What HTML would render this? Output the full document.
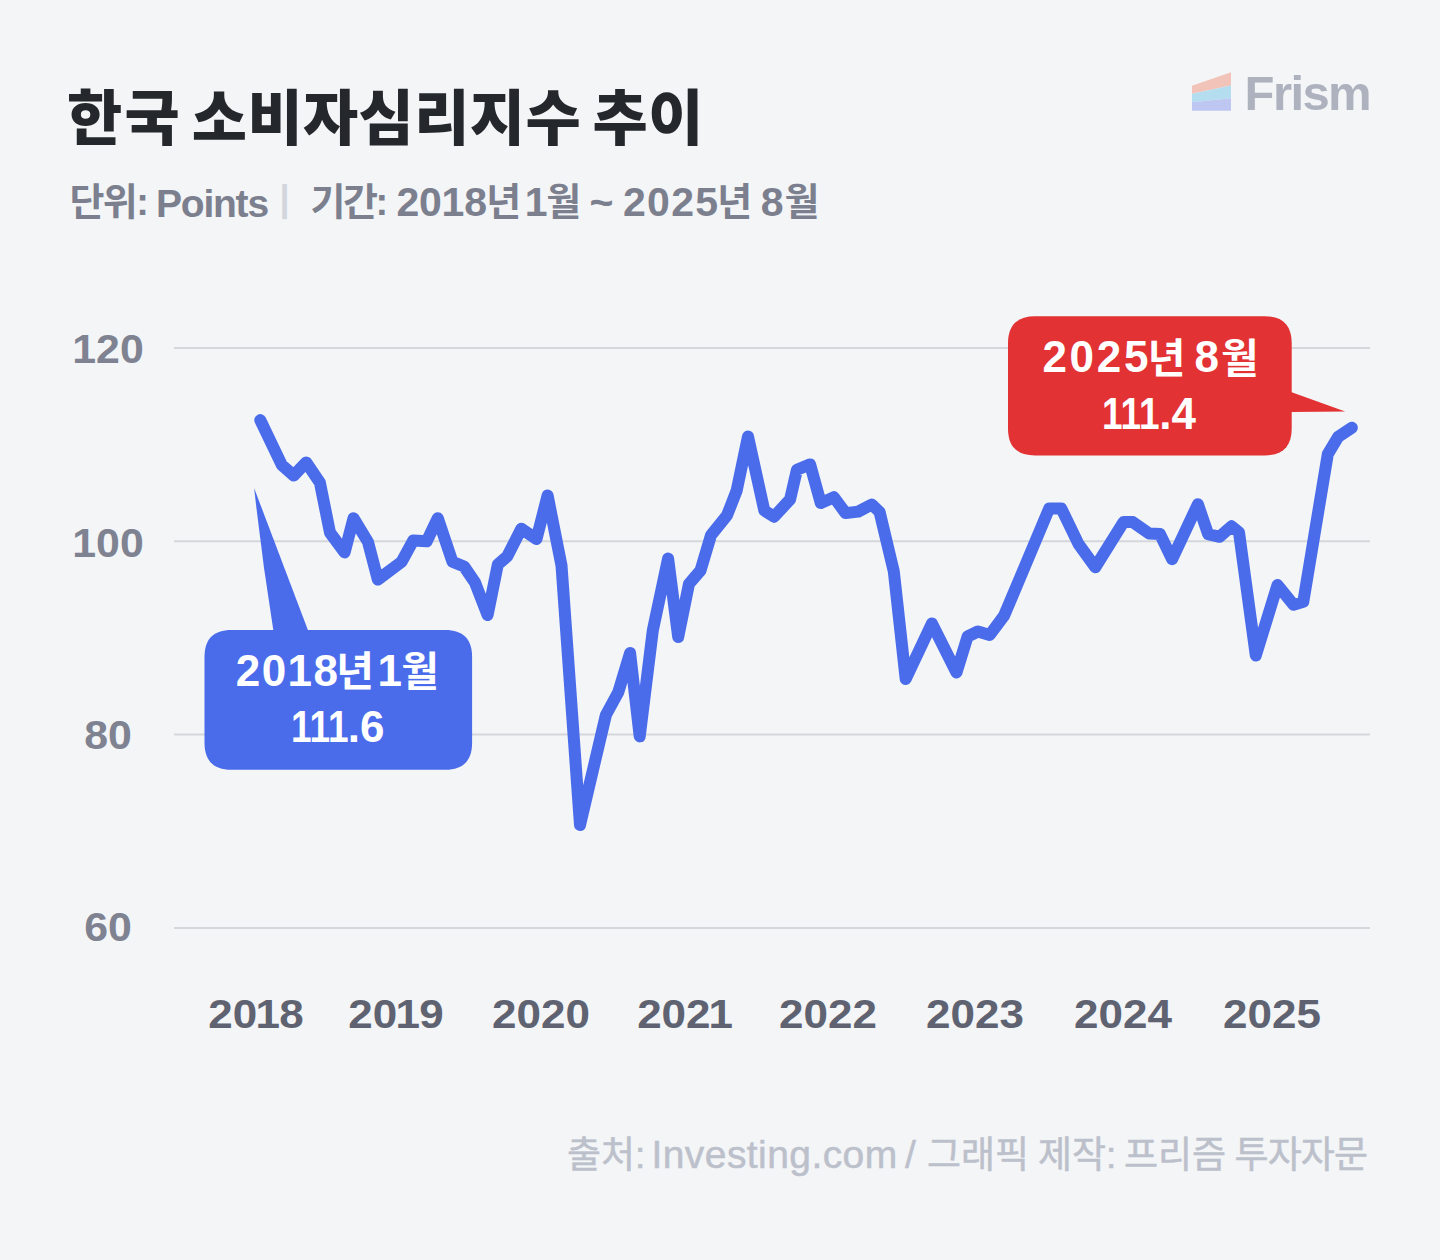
<!DOCTYPE html>
<html lang="ko">
<head>
<meta charset="utf-8">
<style>
html,body{margin:0;padding:0;}
body{width:1440px;height:1260px;background:#F3F5F7;position:relative;overflow:hidden;
  font-family:"Liberation Sans","Noto Sans CJK KR",sans-serif;}
.t{position:absolute;white-space:nowrap;line-height:1;}
#title{left:67px;top:90px;font-size:60px;font-weight:900;color:#24282C;letter-spacing:0.4px;word-spacing:-5.5px;}
.sb{font-weight:700;color:#7B7F8E;}
.sk{font-size:38px;top:183px;}
.sl{font-size:41px;top:181.8px;}
.sp{font-size:39px;top:183.6px;}
.sep{top:180.5px;font-size:36px;color:#D3D6DC;font-weight:700;}
#logo{left:1244.6px;top:69px;font-size:49px;font-weight:700;color:#AEB2BF;letter-spacing:-1.6px;}
.yl{position:absolute;width:80px;left:67.7px;text-align:center;font-size:40px;font-weight:700;color:#7E8291;line-height:1;transform:scaleX(1.07);}
.xl{position:absolute;width:140px;text-align:center;font-size:40px;font-weight:700;color:#5F6371;line-height:1;top:993.5px;transform:scaleX(1.1);}
.q{letter-spacing:-0.8px;margin-left:-1.5px;}
.o{display:inline-block;transform:scaleX(0.84);transform-origin:0 0;margin-right:-11.7px;}
.ft{color:#BCC0CB;font-weight:400;-webkit-text-stroke:0.5px #BCC0CB;}
.fk{font-size:37px;top:1136.6px;letter-spacing:0px;}
.fl{font-size:39px;top:1135px;letter-spacing:0px;}
.cd,.ck{color:#fff;font-weight:700;}
.cd{font-size:44px;}
.ck{font-size:41px;}
svg{position:absolute;left:0;top:0;}
</style>
</head>
<body>
<svg width="1440" height="1260" viewBox="0 0 1440 1260">
  <g stroke="#D5D7DB" stroke-width="2">
    <line x1="174" y1="348" x2="1370" y2="348"/>
    <line x1="174" y1="541.3" x2="1370" y2="541.3"/>
    <line x1="174" y1="734.6" x2="1370" y2="734.6"/>
    <line x1="174" y1="927.9" x2="1370" y2="927.9"/>
  </g>
  <!-- logo mark -->
  <g>
    <polygon points="1192,85.7 1231,72.3 1231,85.5 1192,93.8" fill="#F2C3B8"/>
    <polygon points="1192,93.8 1231,85.5 1231,98.3 1192,102.3" fill="#B5DDF0"/>
    <polygon points="1192,102.3 1231,98.3 1231,110.8 1192,110.8" fill="#BEC7F1"/>
  </g>
  <polyline fill="none" stroke="#4A6CEB" stroke-width="12" stroke-linejoin="round" stroke-linecap="round"
    points="260.3,420.1 281.8,465 293.7,475.5 306.2,462.4 319.9,482.6 330,532.6 344.6,552.4 353.5,518.2 368,542 377.8,579.6 401.7,561.7 413.3,540.4 426.7,541.3 437.8,518.2 452.4,561.7 464.1,566.5 475,582.5 487.6,615.1 497.8,564.6 507.3,556.3 521.3,528.7 536.5,539 547.6,495.5 561.5,565.5 580,825 605.9,715 618.2,692.4 630.1,653.1 639.7,736.4 652.8,630.5 668.1,558.5 678.2,637 689,583.8 700.5,570.5 711,535.2 727.1,515.2 736.7,490.5 748,436.5 764.3,510.5 774.1,516.7 790.1,499.4 796.9,469.8 810.1,464.4 820.8,503.1 833.9,497.2 845.6,513.1 858.2,511.6 871.8,504.5 879.6,512 893.8,571.4 905.7,679 931.9,623.5 956.5,672.5 967.6,636.5 977.9,631.5 989.7,635 1004.1,615.7 1049.2,508.5 1061.3,508.5 1078.5,544 1095.3,567.3 1123.5,522.1 1132.8,522.1 1149.3,533.6 1160,534.1 1172.1,559.2 1197.9,504.2 1208.1,534.1 1219.6,536.8 1231.6,526.3 1239,532.4 1255.8,655.5 1277.5,585 1293.5,604.7 1303.3,601.7 1327.8,454.2 1338.3,436.7 1351.8,427.7"/>
  <!-- blue callout -->
  <path fill="#4A6CEB" d="M254.2,488.3 Q262,560 273.3,630 L307.9,630 Z"/>
  <path fill="#4A6CEB" d="M231.5,629.9 L445.1,629.9 C463.1,629.9 472.1,638.9 472.1,656.9 L472.1,742.8 C472.1,760.8 463.1,769.8 445.1,769.8 L231.5,769.8 C213.5,769.8 204.5,760.8 204.5,742.8 L204.5,656.9 C204.5,638.9 213.5,629.9 231.5,629.9Z"/>
  <!-- red callout -->
  <path fill="#E23233" d="M1291,392 L1345.2,411.4 L1291,412.1 Z"/>
  <path fill="#E23233" d="M1035,316.3 L1264.7,316.3 C1282.7,316.3 1291.7,325.3 1291.7,343.3 L1291.7,428.4 C1291.7,446.4 1282.7,455.4 1264.7,455.4 L1035,455.4 C1017,455.4 1008,446.4 1008,428.4 L1008,343.3 C1008,325.3 1017,316.3 1035,316.3Z"/>
</svg>

<div class="t" id="title"><span style="letter-spacing:2.4px">한</span>국 소비자심리지수 추이</div>
<div class="t sep" style="left:279.5px">|</div>
<!--SUB-->
<div class="t sb sk p0" style="left:69.50px;letter-spacing:-1.62px">단위: </div>
<div class="t sb sl sp p1" style="left:156.00px;letter-spacing:-1.22px">Points</div>
<div class="t sb sk p0" style="left:310.50px;letter-spacing:-2.52px">기간: </div>
<div class="t sb sl p1" style="left:396.50px;letter-spacing:-0.24px">2018</div>
<div class="t sb sk p0" style="left:486.30px;letter-spacing:0.00px">년 </div>
<div class="t sb sl p1" style="left:524.80px;letter-spacing:0.00px">1</div>
<div class="t sb sk p0" style="left:546.20px;letter-spacing:0.00px">월 </div>
<div class="t sb sl p1" style="left:589.50px;letter-spacing:0.00px">~ </div>
<div class="t sb sl p0" style="left:623.00px;letter-spacing:1.32px">2025</div>
<div class="t sb sk p1" style="left:717.30px;letter-spacing:0.00px">년 </div>
<div class="t sb sl p0" style="left:760.70px;letter-spacing:0.00px">8</div>
<div class="t sb sk p1" style="left:784.40px;letter-spacing:0.00px">월</div>
<!--/SUB-->
<div class="t" id="logo">Frism</div>

<div class="yl" style="top:329.2px">120</div>
<div class="yl" style="top:522.5px">100</div>
<div class="yl" style="top:714.6px">80</div>
<div class="yl" style="top:906.6px">60</div>


<div class="xl" style="left:185.85px">20<span class="q">1</span>8</div>
<div class="xl" style="left:326.45px">20<span class="q">1</span>9</div>
<div class="xl" style="left:471.25px">2020</div>
<div class="xl" style="left:615.35px">20<span style="letter-spacing:-2px">2</span>1</div>
<div class="xl" style="left:758.25px">2022</div>
<div class="xl" style="left:904.85px">2023</div>
<div class="xl" style="left:1053.00px">2024</div>
<div class="xl" style="left:1202.30px">2025</div>


<!--CALL-->
<div class="t sg cd q0" style="left:235.80px;top:648.50px;letter-spacing:1.44px">2018</div>
<div class="t sg ck q1" style="left:336.20px;top:652.30px;letter-spacing:0.00px">년 </div>
<div class="t sg cd q0" style="left:377.60px;top:648.50px;letter-spacing:0.00px">1</div>
<div class="t sg ck q1" style="left:401.20px;top:652.30px;letter-spacing:0.00px">월</div>
<div class="t sg cd c2 q0" style="left:290.80px;top:705.30px;letter-spacing:0.00px"><span class="o">111</span>.6</div>
<div class="t sg cd q1" style="left:1042.40px;top:334.70px;letter-spacing:2.70px">2025</div>
<div class="t sg ck q0" style="left:1147.70px;top:338.60px;letter-spacing:0.00px">년 </div>
<div class="t sg cd q1" style="left:1194.60px;top:334.70px;letter-spacing:0.00px">8</div>
<div class="t sg ck q0" style="left:1220.90px;top:338.60px;letter-spacing:0.00px">월</div>
<div class="t sg cd c2 q1" style="left:1102.30px;top:391.50px;letter-spacing:0.00px"><span class="o">111</span>.4</div>
<!--/CALL-->
<div class="t ft fk" style="left:567px">출처: </div>
<div class="t ft fl" style="left:651.5px;letter-spacing:0.42px">Investing.com </div>
<div class="t ft fl" style="left:905px">/ </div>
<div class="t ft fk" style="left:927px">그래픽 </div>
<div class="t ft fk" style="left:1038px">제작: </div>
<div class="t ft fk" style="left:1124px">프리즘 </div>
<div class="t ft fk" style="left:1234.6px;letter-spacing:-0.9px">투자자문</div>
</body>
</html>
